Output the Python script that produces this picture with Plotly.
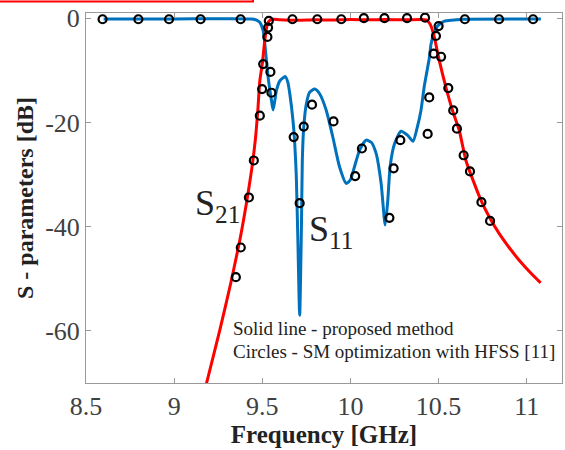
import plotly.graph_objects as go

# S11 (blue) - proposed method
s11_f = [8.60, 9.00, 9.44, 9.47, 9.486, 9.505, 9.518, 9.533, 9.552, 9.561, 9.570, 9.580, 9.600,
         9.631, 9.645, 9.656, 9.674, 9.684, 9.693, 9.702, 9.712, 9.722, 9.727, 9.735, 9.750,
         9.769, 9.797, 9.825, 9.863, 9.900, 9.938, 9.976, 10.000, 10.023, 10.052, 10.089,
         10.118, 10.146, 10.174, 10.197, 10.212, 10.225, 10.250, 10.287, 10.325, 10.355,
         10.380, 10.400, 10.419, 10.428, 10.448, 10.457, 10.475, 10.494, 10.520, 10.542,
         10.600, 10.634, 11.080]
s11_db = [-0.15, -0.15, -0.15, -0.4, -0.8, -2.4, -6.2, -11.3, -15.8, -17.6, -16.0, -13.9, -12.0,
          -11.2, -12.3, -14.5, -19.6, -24.0, -30.4, -43.0, -57.0, -40.0, -27.3, -20.9, -16.4,
          -14.2, -13.6, -14.5, -17.7, -22.8, -28.5, -31.7, -31.0, -28.5, -25.3, -23.4,
          -23.8, -26.0, -31.7, -39.7, -34.9, -28.5, -24.1, -21.7, -22.5, -23.6,
          -20.8, -17.7, -13.0, -11.3, -7.5, -5.0, -2.8, -1.5, -0.8, -0.5,
          -0.3, -0.2, -0.15]

# S21 (red) - proposed method
s21_f = [9.17, 9.184, 9.26, 9.32, 9.373, 9.41, 9.439, 9.46, 9.475, 9.486, 9.501, 9.51, 9.52,
         9.53, 9.545, 9.561, 9.60, 9.70, 9.80, 9.90, 10.00, 10.10, 10.20, 10.30, 10.40,
         10.429, 10.445, 10.457, 10.476, 10.505, 10.542, 10.579, 10.617, 10.655, 10.70,
         10.74, 10.79, 10.843, 10.90, 10.956, 11.02, 11.079]
s21_db = [-72.0, -70.0, -59.7, -51.0, -42.5, -35.5, -29.2, -23.5, -17.5, -12.0, -8.5, -5.5, -2.8,
          -1.0, -0.35, -0.2, -0.3, -0.4, -0.3, -0.35, -0.25, -0.3, -0.25, -0.3, -0.25,
          -0.3, -0.8, -1.5, -3.7, -8.3, -13.3, -17.7, -21.5, -27.3, -31.5,
          -34.9, -38.3, -41.3, -44.0, -46.4, -48.8, -50.8]

# Circles - SM optimization with HFSS
circ_f = [8.594, 8.797, 8.971, 9.150, 9.377, 9.537, 9.671, 9.812, 9.948, 10.076, 10.193, 10.321,
          10.423, 10.500, 10.649, 10.843, 11.036,
          9.533, 9.529, 9.505, 9.546, 9.499, 9.552, 9.486, 9.452, 9.424, 9.378, 9.350,
          9.678, 9.735, 9.782, 9.904, 9.712, 10.027, 10.065,
          10.221, 10.245, 10.283, 10.438, 10.447, 10.472, 10.485, 10.514,
          10.555, 10.583, 10.604, 10.642, 10.678, 10.743, 10.792]
circ_db = [-0.2, -0.2, -0.2, -0.2, -0.2, -0.5, -0.2, -0.2, -0.2, 0.0, 0.0, 0.0,
           0.1, -1.5, -0.2, -0.2, -0.2,
           -1.8, -3.6, -8.8, -10.3, -13.6, -14.3, -18.7, -27.3, -34.4, -44.0, -49.7,
           -22.8, -20.8, -16.6, -19.8, -35.5, -30.3, -25.0,
           -38.3, -28.8, -23.4, -22.2, -15.2, -6.8, -3.4, -7.4,
           -13.4, -17.7, -21.2, -26.3, -29.4, -35.3, -38.9]

x_ticks = [8.5, 9, 9.5, 10, 10.5, 11]
x_tick_text = ["8.5", "9", "9.5", "10", "10.5", "11"]
y_ticks = [0, -20, -40, -60]
y_tick_text = ["0", "-20", "-40", "-60"]

SERIF = "Liberation Serif, Times New Roman, serif"

fig = go.Figure()
fig.add_trace(go.Scatter(x=s11_f, y=s11_db, mode="lines",
                         line=dict(color="#0072BD", width=3, shape="spline", smoothing=0.6),
                         showlegend=False))
fig.add_trace(go.Scatter(x=s21_f, y=s21_db, mode="lines",
                         line=dict(color="#FF0000", width=3, shape="spline", smoothing=0.6),
                         showlegend=False))
fig.add_trace(go.Scatter(x=circ_f, y=circ_db, mode="markers",
                         marker=dict(symbol="circle-open", size=8, color="black",
                                     line=dict(color="black", width=2.2)),
                         showlegend=False, cliponaxis=False))

axis_common = dict(showline=True, linecolor="#999999", linewidth=1, mirror="ticks",
                   ticks="inside", ticklen=5, tickcolor="#999999", showgrid=False,
                   zeroline=False, automargin=False,
                   tickfont=dict(family=SERIF, size=26, color="#404040"))

fig.update_xaxes(range=[8.5, 11.2], tickvals=x_ticks, ticktext=x_tick_text,
                 title=dict(text="<b>Frequency [GHz]</b>", standoff=4,
                            font=dict(family=SERIF, size=25, color="#222222")),
                 **axis_common)
fig.update_yaxes(range=[-70, 1], tickvals=y_ticks, ticktext=y_tick_text,
                 title=dict(text="<b>S - parameters [dB]</b>", standoff=4,
                            font=dict(family=SERIF, size=24, color="#222222")),
                 **axis_common)

ann_font = dict(family=SERIF, color="#222222")
fig.add_annotation(x=9.108, y=-35.9, xref="x", yref="y", text="S<sub>21</sub>",
                   showarrow=False, xanchor="left", yanchor="middle",
                   font=dict(size=36, **ann_font))
fig.add_annotation(x=9.752, y=-41.0, xref="x", yref="y", text="S<sub>11</sub>",
                   showarrow=False, xanchor="left", yanchor="middle",
                   font=dict(size=36, **ann_font))
fig.add_annotation(x=9.323, y=-59.5, xref="x", yref="y", text="Solid line - proposed method",
                   showarrow=False, xanchor="left", yanchor="middle",
                   font=dict(size=19, **ann_font))
fig.add_annotation(x=9.323, y=-64.0, xref="x", yref="y",
                   text="Circles - SM optimization with HFSS [11]",
                   showarrow=False, xanchor="left", yanchor="middle",
                   font=dict(size=19, **ann_font))

# red frame edge at top-left of the image
fig.add_shape(type="rect", xref="paper", yref="paper",
              x0=-0.25, x1=(253 - 86) / 476, y0=(383 - 1.5) / 370, y1=1.2,
              line=dict(color="#FF0000", width=2), fillcolor="rgba(0,0,0,0)")

fig.update_layout(width=565, height=450, margin=dict(l=86, r=3, t=13, b=67),
                  paper_bgcolor="white", plot_bgcolor="white")

fig.write_html("out.html", config={"displayModeBar": False},
               post_script="document.body.style.margin='0px';document.body.style.padding='0px';")
